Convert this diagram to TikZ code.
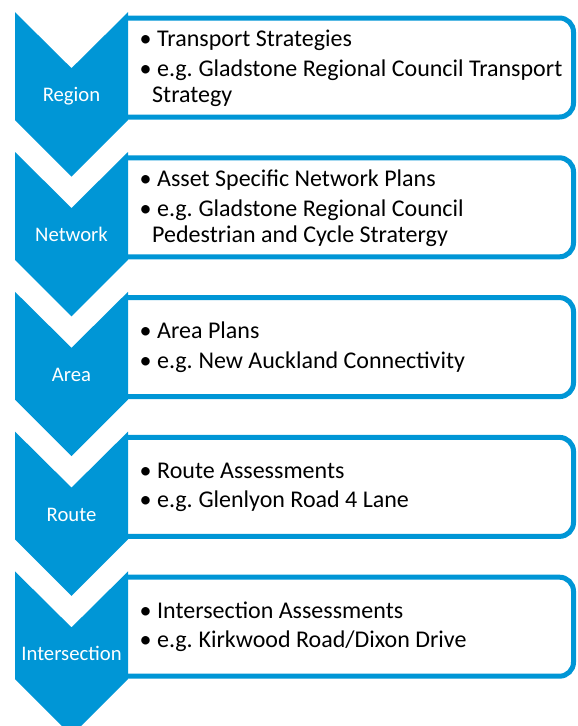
\documentclass[tikz,border=0pt]{standalone}
\usepackage{fontspec}
\setmainfont{Carlito}
\definecolor{chevblue}{RGB}{0,150,214}
\begin{document}
\begin{tikzpicture}[x=1pt,y=-1pt,
  panel/.style={draw=chevblue, line width=5pt, fill=white, rounded corners=14pt},
  chev/.style={fill=chevblue, draw=none},
  lbl/.style={text=white, font=\fontsize{20.7}{24}\selectfont, anchor=base, inner sep=0pt},
  itemtext/.style={font=\fontsize{24}{28}\selectfont, anchor=base west, inner sep=0pt, text=black},
  bul/.style={itemtext},
]
\useasboundingbox (0,0) rectangle (578,726);
\begin{scope}
\clip (0,0) rectangle (578,726);
% one panel and one chevron per level, 139.8 units apart
\foreach \k/\name in {0/Region,1/Network,2/Area,3/Route,4/Intersection}{
  \pgfmathsetmacro\dy{139.8*\k}
  % the panel's left end tucks under the chevron
  \begin{scope}
    \clip (126,\dy) rectangle (600,140+\dy);
    \draw[panel] (60,18+\dy) rectangle (573.5,117+\dy);
  \end{scope}
  \fill[chev] (15,12.2+\dy) -- (71.5,68.2+\dy) -- (128,12.2+\dy) -- (128,120+\dy)
              -- (71.5,176.5+\dy) -- (15,120+\dy) -- cycle;
  \node[lbl] (lbl\k) at (71.5,101.7+\dy) {\name};
}
\end{scope}

% Region
\node[bul] (b1a) at (139.5,46.8) {•};
\node[itemtext] (t1a) at (157,46.8) {Transport Strategies};
\node[bul] (b1b) at (139.5,76.8) {•};
\node[itemtext] (t1b) at (157,76.8) {e.g.\hspace{-1.5pt} Gladstone Regional Council Transport};
\node[itemtext] (t1c) at (152,102.5) {Strategy};

% Network
\node[bul] (b2a) at (139.5,186.6) {•};
\node[itemtext] (t2a) at (157,186.6) {Asset Specific Network Plans};
\node[bul] (b2b) at (139.5,216.6) {•};
\node[itemtext] (t2b) at (157,216.6) {e.g.\hspace{-1.5pt} Gladstone Regional Council};
\node[itemtext] (t2c) at (152,242.3) {Pedestrian and Cycle Stratergy};

% Area
\node[bul] (b3a) at (139.5,338.8) {•};
\node[itemtext] (t3a) at (157,338.8) {Area Plans};
\node[bul] (b3b) at (139.5,368.1) {•};
\node[itemtext] (t3b) at (157,368.1) {e.g.\hspace{-1.5pt} New Auckland Connectivity};

% Route
\node[bul] (b4a) at (139.5,478.6) {•};
\node[itemtext] (t4a) at (157,478.6) {Route Assessments};
\node[bul] (b4b) at (139.5,507.9) {•};
\node[itemtext] (t4b) at (157,507.9) {e.g.\hspace{-1.5pt} Glenlyon Road 4 Lane};

% Intersection
\node[bul] (b5a) at (139.5,618.4) {•};
\node[itemtext] (t5a) at (157,618.4) {Intersection Assessments};
\node[bul] (b5b) at (139.5,647.7) {•};
\node[itemtext] (t5b) at (157,647.7) {e.g.\hspace{-1.5pt} Kirkwood Road/Dixon Drive};
\end{tikzpicture}
\end{document}
